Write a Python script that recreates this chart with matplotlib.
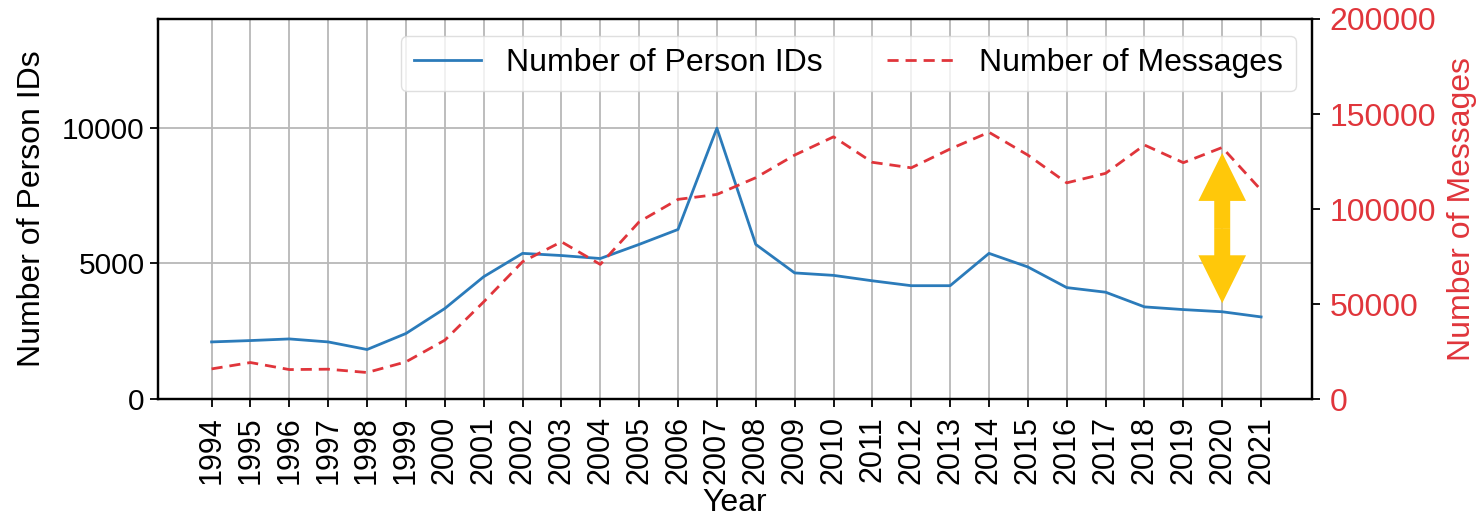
import numpy as np
import matplotlib
matplotlib.use('Agg')
import matplotlib.pyplot as plt

plt.rcParams['font.family'] = ['Liberation Sans', 'DejaVu Sans']

years = list(range(1994, 2022))
person_ids = [2110, 2160, 2220, 2110, 1830, 2420, 3340, 4510, 5370, 5290, 5180, 5700,
              6250, 9980, 5700, 4650, 4560, 4360, 4180, 4180, 5370, 4870, 4110, 3940,
              3400, 3300, 3220, 3030]
messages = [15950, 19300, 15600, 15800, 14050, 19650, 31050, 51200, 72300, 82800, 70900,
            93300, 105100, 107700, 116500, 128400, 138000, 124600, 121700, 131600, 140400,
            128400, 113800, 118800, 133700, 124400, 132400, 110000]

# arrow marking the gap in 2020 (right axis units)
arrow_year = 2020
arrow_top, arrow_mid, arrow_bottom = 129500, 90000, 50500

blue = '#2b7bba'
red = '#e0353b'
yellow = '#ffc80a'

fig, ax = plt.subplots(figsize=(14.83, 5.26), dpi=100)
fig.subplots_adjust(left=0.1065, right=0.8847, top=0.964, bottom=0.241)

l1, = ax.plot(years, person_ids, color=blue, lw=2.0, label='Number of Person IDs')
ax.set_ylim(0, 14000)
ax.set_yticks([0, 5000, 10000])
ax.set_xlim(1992.62, 2022.31)
ax.set_xticks(years)
ax.set_xticklabels([str(y) for y in years], rotation=90)
ax.grid(True, color='#b8b8b8', lw=1.3)
ax.set_axisbelow(True)
ax.set_ylabel('Number of Person IDs', fontsize=23, labelpad=11)
ax.set_xlabel('Year', fontsize=23, labelpad=3)
ax.tick_params(axis='y', labelsize=21.5, length=6, width=1.3)
ax.tick_params(axis='x', labelsize=22, length=6, width=1.3, pad=6)

ax2 = ax.twinx()
l2, = ax2.plot(years, messages, color=red, lw=2.0, ls='--', dashes=(4, 2.5),
               label='Number of Messages')
ax2.set_ylim(0, 200000)
ax2.set_yticks([0, 50000, 100000, 150000, 200000])
ax2.set_ylabel('Number of Messages', fontsize=23, color=red, labelpad=8)
ax2.tick_params(labelsize=23, length=6, width=1.3, labelcolor=red, pad=6.5)

for a in (ax, ax2):
    for s in a.spines.values():
        s.set_linewidth(1.6)

# yellow double arrow, drawn as two arrows from the middle
for tip in (arrow_top, arrow_bottom):
    ax2.annotate('', xy=(arrow_year, tip), xytext=(arrow_year, arrow_mid),
                 arrowprops=dict(arrowstyle='simple,head_length=34.5,head_width=34.3,tail_width=11.5',
                                 mutation_scale=1, color=yellow, lw=0,
                                 shrinkA=0, shrinkB=0))

leg = ax2.legend(handles=[l1, l2], loc='upper right', ncol=2, fontsize=23,
                 bbox_to_anchor=(1.0, 0.998), handlelength=2.1, columnspacing=2.0,
                 fancybox=True, framealpha=0.8, edgecolor='#d8d8d8')

fig.savefig('out.png', dpi=100)
